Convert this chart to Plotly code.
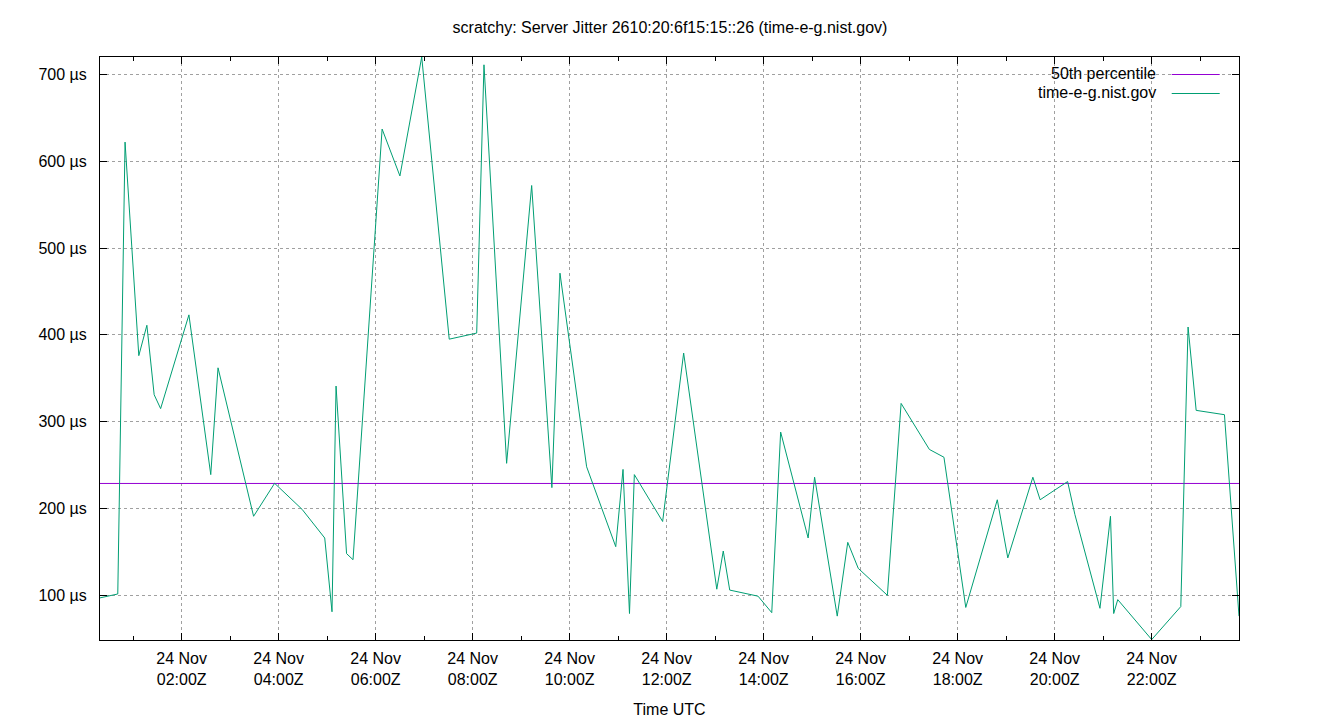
import plotly.graph_objects as go

# ---- data ----
times = ["00:19", "00:41", "00:50", "01:07", "01:17", "01:26", "01:34", "02:09", "02:36", "02:45",
         "03:29", "03:55", "04:29", "04:57", "05:06", "05:11", "05:24", "05:32", "06:08", "06:30",
         "06:57", "07:31", "08:05", "08:14", "08:42", "09:13", "09:38", "09:48", "10:21", "10:57",
         "11:06", "11:14", "11:20", "11:55", "12:21", "13:02", "13:10", "13:18", "13:53", "14:10",
         "14:21", "14:55", "15:03", "15:31", "15:44", "15:57", "16:33", "16:50", "17:25", "17:43",
         "18:10", "18:49", "19:02", "19:33", "19:42", "20:16", "20:25", "20:56", "21:09", "21:13",
         "21:18", "22:00", "22:36", "22:45", "22:55", "23:30", "23:48"]
jitter_us = [97, 101.5, 622, 376, 411, 331, 315, 423, 239, 362,
             191, 229, 199, 166, 81, 341, 148, 141, 637, 583,
             720, 395, 402, 711, 252, 572, 224, 471, 248, 156,
             245, 79, 239, 185, 379, 107, 151, 106, 99, 80,
             288, 166, 236, 76, 161, 131, 100, 321, 268, 259,
             86, 210, 143, 236, 210, 231, 193, 85, 191, 79,
             95, 49, 87, 409, 313, 308, 76]
median_us = 228.8
day = "2024-11-24"
tick_hours = ["02:00", "04:00", "06:00", "08:00", "10:00", "12:00", "14:00", "16:00",
              "18:00", "20:00", "22:00"]
y_ticks = [100, 200, 300, 400, 500, 600, 700]
title_text = "scratchy: Server Jitter 2610:20:6f15:15::26 (time-e-g.nist.gov)"
series_names = ["50th percentile", "time-e-g.nist.gov"]

x = [f"{day} {t}:00" for t in times]
FONT = "Liberation Sans, Arial, sans-serif"
TEAL = "#009e73"
PURPLE = "#9400d3"

fig = go.Figure()
fig.add_trace(go.Scatter(x=[x[0], x[-1]], y=[median_us, median_us], mode="lines",
                         line=dict(color=PURPLE, width=1), name=series_names[0], showlegend=False))
fig.add_trace(go.Scatter(x=x, y=jitter_us, mode="lines",
                         line=dict(color=TEAL, width=1), name=series_names[1], showlegend=False))

L, R, T, B = 100, 1239.3, 57, 640
W, H = 1340, 720

def px(xp):
    return (xp - L) / (R - L)

def py(yp):
    return (B - yp) / (B - T)

fig.update_layout(
    width=W, height=H,
    margin=dict(l=L, r=W - R, t=T, b=H - B, pad=0, autoexpand=False),
    paper_bgcolor="white", plot_bgcolor="white",
    font=dict(family=FONT, size=16, color="#000000"),
    title=dict(text=title_text, x=0.5, xanchor="center", y=1 - 27 / H, yanchor="middle",
               yref="container", font=dict(size=16), automargin=False),
    showlegend=False,
)
fig.update_xaxes(
    type="date", range=[x[0], x[-1]], automargin=False,
    tickvals=[f"{day} {h}:00" for h in tick_hours],
    ticktext=[f"24 Nov<br>{h}Z" for h in tick_hours],
    ticks="inside", ticklen=7, tickcolor="black", tickwidth=1,
    minor=dict(ticks="inside", ticklen=4, tickcolor="black", dtick=3600000,
               tick0=f"{day} 01:00:00", showgrid=False),
    showline=True, linecolor="black", linewidth=1, mirror="ticks",
    showgrid=True, gridcolor="#a0a0a0", griddash="3px,3px", gridwidth=1,
    zeroline=False, ticklabelstandoff=4,
    title=dict(text="Time UTC", standoff=16, font=dict(size=16)),
)
fig.update_yaxes(
    range=[min(jitter_us) - 0.5, max(jitter_us)], automargin=False,
    tickvals=y_ticks, ticktext=[f"{v} µs" for v in y_ticks],
    ticks="inside", ticklen=7, tickcolor="black", tickwidth=1,
    showline=True, linecolor="black", linewidth=1, mirror="ticks",
    showgrid=True, gridcolor="#a0a0a0", griddash="3px,3px", gridwidth=1,
    zeroline=False, ticklabelstandoff=9,
)

# gnuplot-style key (text right-aligned, sample on the right)
fig.add_shape(type="rect", xref="paper", yref="paper", x0=px(990), x1=px(1228),
              y0=py(100), y1=py(58), fillcolor="white", line=dict(width=0), layer="between")
for i, (name, col) in enumerate(zip(series_names, [PURPLE, TEAL])):
    yy = 74.5 + i * 19
    fig.add_shape(type="line", xref="paper", yref="paper", x0=px(1172), x1=px(1220),
                  y0=py(yy), y1=py(yy), line=dict(color=col, width=1))
    fig.add_annotation(xref="paper", yref="paper", x=px(1158), y=py(yy - 1), text=name,
                       showarrow=False, xanchor="right", yanchor="middle",
                       font=dict(size=16, family=FONT, color="#000000"))

fig.write_html("out.html", config={"displayModeBar": False},
               post_script="document.body.style.margin='0px';document.body.style.overflow='hidden';")
